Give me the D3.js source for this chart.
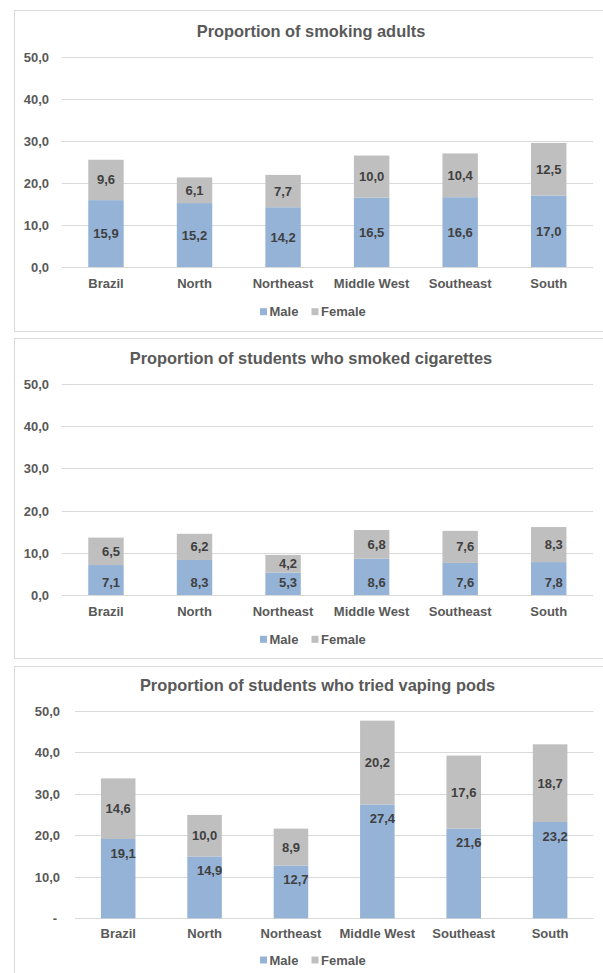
<!DOCTYPE html>
<html>
<head>
<meta charset="utf-8">
<script src="https://cdn.jsdelivr.net/npm/d3@7/dist/d3.min.js"></script>
<style>
  html, body { margin: 0; padding: 0; background: #fff; }
  svg { display: block; font-family: Arial, "Liberation Sans", sans-serif; }
</style>
</head>
<body>
<svg id="chart" width="603" height="973"></svg>
<script>
// Regions shown on every panel
const regions = ["Brazil", "North", "Northeast", "Middle West", "Southeast", "South"];
const seriesNames = ["Male", "Female"];
const yTicks = [0, 10, 20, 30, 40, 50];

// Proportion of smoking adults
const adultsMale   = [15.9, 15.2, 14.2, 16.5, 16.6, 17.0];
const adultsFemale = [9.6, 6.1, 7.7, 10.0, 10.4, 12.5];

// Proportion of students who smoked cigarettes
const cigMale   = [7.1, 8.3, 5.3, 8.6, 7.6, 7.8];
const cigFemale = [6.5, 6.2, 4.2, 6.8, 7.6, 8.3];

// Proportion of students who tried vaping pods
const podMale   = [19.1, 14.9, 12.7, 27.4, 21.6, 23.2];
const podFemale = [14.6, 10.0, 8.9, 20.2, 17.6, 18.7];

const colors = { Male: "#95b3d7", Female: "#bfbfbf" };
const fmt = v => v.toFixed(1).replace(".", ",");

const panels = [
  {
    title: "Proportion of smoking adults", male: adultsMale, female: adultsFemale,
    box: [14, 10, 620, 321], titleX: 311, titleY: 31,
    plot: { x0: 61.7, x1: 593, y0: 267, y1: 56.7 }, tickX: 49,
    catY: 283.5, legY: 311.7, zeroDash: false,
    maleLabel: "center", maleDx: 0, femaleDx: 0
  },
  {
    title: "Proportion of students who smoked cigarettes", male: cigMale, female: cigFemale,
    box: [14, 338, 620, 320], titleX: 311, titleY: 358.5,
    plot: { x0: 61.7, x1: 593, y0: 595, y1: 384 }, tickX: 49,
    catY: 611.7, legY: 639.3, zeroDash: false,
    maleLabel: "base", maleDx: 5, femaleDx: 5
  },
  {
    title: "Proportion of students who tried vaping pods", male: podMale, female: podFemale,
    box: [14, 666, 620, 330], titleX: 317.5, titleY: 685,
    plot: { x0: 75, x1: 593.3, y0: 918.3, y1: 710.7 }, tickX: 60,
    catY: 933.3, legY: 960, zeroDash: true,
    maleLabel: "end", maleDx: 5, femaleDx: 0
  }
];

const svg = d3.select("#chart");

panels.forEach(p => {
  const g = svg.append("g");

  // panel frame
  g.append("rect")
    .attr("x", p.box[0] + 0.5).attr("y", p.box[1] + 0.5)
    .attr("width", p.box[2]).attr("height", p.box[3])
    .attr("fill", "#fff").attr("stroke", "#d9d9d9").attr("stroke-width", 1);

  const x = d3.scaleBand().domain(regions)
    .range([p.plot.x0, p.plot.x1]).paddingInner(0.6).paddingOuter(0.3);
  const y = d3.scaleLinear().domain([0, 50]).range([p.plot.y0, p.plot.y1]);

  // gridlines
  g.append("g").selectAll("line").data(yTicks).join("line")
    .attr("x1", p.plot.x0).attr("x2", p.plot.x1)
    .attr("y1", d => Math.round(y(d)) + 0.5).attr("y2", d => Math.round(y(d)) + 0.5)
    .attr("stroke", "#d9d9d9").attr("stroke-width", 1);

  // y axis labels
  const yAxis = d3.axisLeft(y).tickValues(yTicks).tickSize(0)
    .tickFormat(d => (d === 0 && p.zeroDash) ? "-" : fmt(d));
  const ya = g.append("g").attr("transform", `translate(${p.tickX},0)`).call(yAxis);
  ya.select(".domain").remove();
  ya.selectAll("text")
    .attr("x", 0).attr("dy", "0.35em")
    .attr("fill", "#595959").attr("font-size", 13).attr("font-weight", "bold")
    .attr("font-family", "Arial, 'Liberation Sans', sans-serif")
    .filter(d => d === 0 && p.zeroDash).attr("x", -3);

  // x axis labels
  const xAxis = d3.axisBottom(x).tickSize(0);
  const xa = g.append("g").attr("transform", `translate(0,${p.catY})`).call(xAxis);
  xa.select(".domain").remove();
  xa.selectAll("text")
    .attr("y", 0).attr("dy", "0.35em")
    .attr("fill", "#595959").attr("font-size", 13).attr("font-weight", "bold")
    .attr("font-family", "Arial, 'Liberation Sans', sans-serif");

  // stacked bars
  const rows = regions.map((r, i) => ({ region: r, Male: p.male[i], Female: p.female[i] }));
  const stacked = d3.stack().keys(seriesNames)(rows);

  g.append("g").selectAll("g").data(stacked).join("g")
    .attr("fill", s => colors[s.key])
    .selectAll("rect").data(s => s).join("rect")
    .attr("x", d => x(d.data.region))
    .attr("width", x.bandwidth())
    .attr("y", d => y(d[1]))
    .attr("height", d => y(d[0]) - y(d[1]));

  // value labels
  const labels = g.append("g")
    .attr("font-size", 13).attr("font-weight", "bold").attr("fill", "#404040")
    .attr("text-anchor", "middle");

  stacked.forEach(s => {
    labels.append("g").selectAll("text").data(s).join("text")
      .attr("x", d => x(d.data.region) + x.bandwidth() / 2 + (s.key === "Male" ? p.maleDx : p.femaleDx))
      .attr("y", d => {
        if (s.key === "Male" && p.maleLabel === "base") return y(d[0]) - 13;
        if (s.key === "Male" && p.maleLabel === "end") return y(d[1]) + 14;
        return (y(d[0]) + y(d[1])) / 2;
      })
      .attr("dy", "0.35em")
      .text(d => fmt(d[1] - d[0]));
  });

  // legend
  const leg = g.append("g").attr("font-size", 13).attr("font-weight", "bold").attr("fill", "#595959");
  const legX = { Male: 260, Female: 311.5 };
  seriesNames.forEach(k => {
    leg.append("rect").attr("x", legX[k]).attr("y", p.legY - 3.5)
      .attr("width", 7).attr("height", 7).attr("fill", colors[k]);
    leg.append("text").attr("x", legX[k] + 9.5).attr("y", p.legY).attr("dy", "0.35em").text(k);
  });

  // title
  g.append("text")
    .attr("x", p.titleX).attr("y", p.titleY).attr("dy", "0.35em")
    .attr("text-anchor", "middle").attr("font-size", 16.4).attr("font-weight", "bold")
    .attr("fill", "#595959").text(p.title);
});
</script>
</body>
</html>
